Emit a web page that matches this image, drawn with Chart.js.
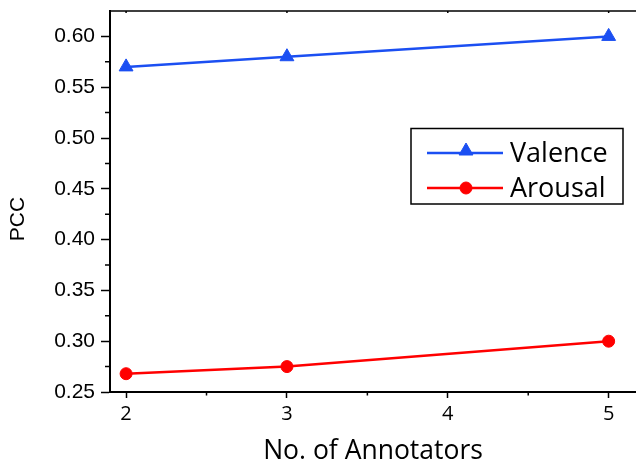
<!DOCTYPE html>
<html>
<head>
<meta charset="utf-8">
<script src="https://cdn.jsdelivr.net/npm/chart.js@4/dist/chart.umd.min.js"></script>
<style>
body{margin:0;background:#fff}
</style>
</head>
<body>
<canvas id="graphe" width="636" height="465"></canvas>
<script>
// donnees
var annotateurs = [2, 3, 5]
var valence = [0.57, 0.58, 0.60]
var arousal = [0.268, 0.275, 0.30]
var ticksX = [2, 3, 4, 5]
var ticksY = [0.25, 0.30, 0.35, 0.40, 0.45, 0.50, 0.55, 0.60]
var noms = ["Valence", "Arousal"]

function points(xs, ys){
	var res = []
	for(var i=0;i<xs.length;i++){
		res.push({x: xs[i], y: ys[i]})
	}
	return res
}
function milieux(t){
	var res = []
	for(var i=0;i<t.length-1;i++){
		res.push((t[i]+t[i+1])/2)
	}
	return res
}
function sansMarge(s){
	s.paddingLeft = 0
	s.paddingRight = 0
	s.paddingTop = 0
	s.paddingBottom = 0
}

// cadre du haut, petits ticks et legende dans la zone
var cadre = {
	id: "cadre",
	afterDraw: function(chart){
		var ctx = chart.ctx
		var a = chart.chartArea
		var sx = chart.scales.x
		var sy = chart.scales.y
		ctx.save()
		ctx.strokeStyle = "#000"
		ctx.lineWidth = 1.5
		ctx.beginPath()
		ctx.moveTo(a.left, a.top)
		ctx.lineTo(a.right, a.top)
		var mx = milieux(ticksX)
		for(var i=0;i<mx.length;i++){
			var px = sx.getPixelForValue(mx[i])
			ctx.moveTo(px, a.bottom)
			ctx.lineTo(px, a.bottom+3.5)
		}
		for(var i=0;i<ticksX.length;i++){
			var px = sx.getPixelForValue(ticksX[i])
			ctx.moveTo(px, a.top)
			ctx.lineTo(px, a.top+2)
		}
		var my = milieux(ticksY)
		for(var i=0;i<my.length;i++){
			var py = sy.getPixelForValue(my[i])
			ctx.moveTo(a.left, py)
			ctx.lineTo(a.left-5, py)
		}
		ctx.stroke()

		// legende
		ctx.lineWidth = 1.5
		ctx.strokeRect(411, 128.5, 212, 75.5)
		var ds = chart.data.datasets
		var lignes = [153, 188]
		for(var i=0;i<ds.length;i++){
			var y = lignes[i]
			ctx.strokeStyle = ds[i].borderColor
			ctx.lineWidth = 2.5
			ctx.beginPath()
			ctx.moveTo(427, y)
			ctx.lineTo(503, y)
			ctx.stroke()
			ctx.fillStyle = ds[i].backgroundColor
			ctx.lineWidth = 1
			Chart.helpers.drawPoint(ctx, {pointStyle: ds[i].pointStyle, radius: ds[i].pointRadius, borderWidth: 1, rotation: 0}, 466, i==0 ? y-2 : y)
			ctx.fillStyle = "#000"
			ctx.font = "27px 'Open Sans'"
			ctx.textBaseline = "alphabetic"
			ctx.textAlign = "left"
			ctx.fillText(ds[i].label, 510, y+8.5)
		}
		ctx.restore()
	}
}

new Chart("graphe", {
	type: "line",
	data: {datasets: [
		{label: noms[0], data: points(annotateurs, valence), borderColor: "#1b4ff2", backgroundColor: "#1b4ff2",
			borderWidth: 2.5, pointStyle: "triangle", pointRadius: 8, pointBorderWidth: 1, tension: 0},
		{label: noms[1], data: points(annotateurs, arousal), borderColor: "#ff0000", backgroundColor: "#ff0000",
			borderWidth: 2.5, pointStyle: "circle", pointRadius: 6, pointBorderWidth: 1, tension: 0}
	]},
	options: {
		responsive: false,
		animation: false,
		layout: {autoPadding: false, padding: {top: 11, left: 0, right: 0, bottom: 0}},
		plugins: {legend: {display: false}, tooltip: {enabled: false}},
		scales: {
			x: {
				type: "linear", min: 1.9, max: 5.17,
				afterFit: function(s){ s.height = 73; sansMarge(s) },
				afterBuildTicks: function(s){ s.ticks = ticksX.map(function(v){ return {value: v} }) },
				border: {color: "#000", width: 2},
				grid: {drawOnChartArea: false, tickLength: 6, tickWidth: 1.5, tickColor: "#000"},
				ticks: {color: "#000", padding: 4, font: {family: "'Open Sans'", size: 20},
					callback: function(v){ return v }},
				title: {display: true, text: "No. of Annotators", color: "#000",
					font: {family: "'Open Sans'", size: 26.5, lineHeight: 1}, padding: {top: 0, bottom: 0}}
			},
			y: {
				min: 0.25, max: 0.625,
				afterFit: function(s){ s.width = 110; sansMarge(s) },
				afterBuildTicks: function(s){ s.ticks = ticksY.map(function(v){ return {value: v} }) },
				border: {color: "#000", width: 2},
				grid: {drawOnChartArea: false, tickLength: 9, tickWidth: 1.5, tickColor: "#000"},
				ticks: {color: "#000", padding: 6, font: {family: "'Liberation Sans'", size: 21},
					callback: function(v){ return v.toFixed(2) }},
				title: {display: true, text: "PCC\u00a0\u00a0\u00a0\u00a0\u00a0\u00a0", color: "#000",
					font: {family: "'Liberation Sans'", size: 21, lineHeight: 1.2}, padding: {top: 6, bottom: 0}}
			}
		}
	},
	plugins: [cadre]
})
</script>
</body>
</html>
